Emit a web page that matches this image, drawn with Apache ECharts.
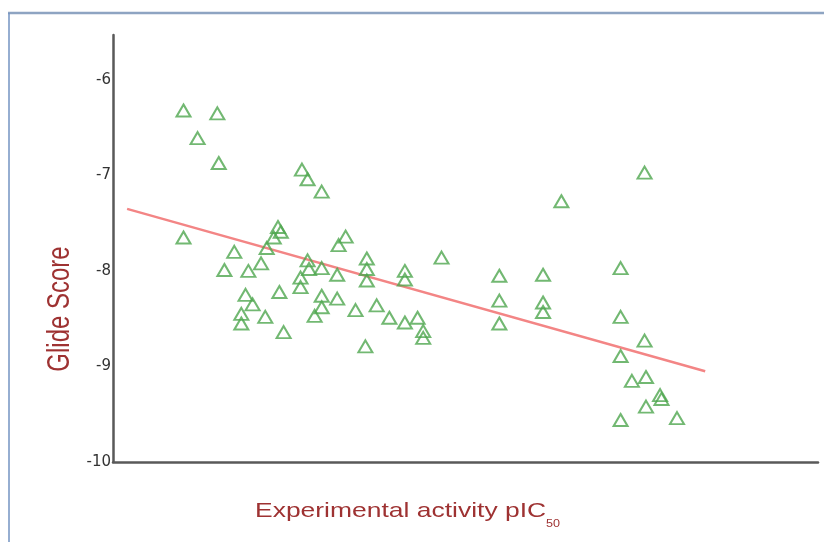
<!DOCTYPE html>
<html>
<head>
<meta charset="utf-8">
<title>Glide Score vs pIC50</title>
<script src="https://cdn.jsdelivr.net/npm/echarts@6/dist/echarts.min.js"></script>
<style>
  html, body { margin: 0; padding: 0; background: #ffffff; }
  #chart { width: 824px; height: 542px; }
</style>
</head>
<body>
<div id="chart"></div>
<script>
// Experimental activity (pIC50) of each compound
const pIC50 = [
  4.50, 4.74, 4.60, 4.75, 5.34, 5.38, 5.48, 7.77, 7.18,
  4.50, 5.17, 5.19, 5.14, 5.09, 4.86, 4.79, 4.96, 5.05, 4.94, 4.99, 4.91, 4.91, 5.08, 5.18, 5.21,
  5.60, 5.65, 5.38, 5.48, 5.39, 5.33, 5.33, 5.59, 5.48, 5.48, 5.43, 5.59, 5.72, 5.87, 5.96, 6.07,
  6.16, 6.20, 6.20, 5.79, 5.80, 5.80, 5.80, 6.07, 6.07, 6.33,
  6.74, 7.05, 7.60, 6.74, 7.05, 7.05, 6.74, 7.60, 7.77, 7.60, 7.68, 7.78, 7.88, 7.89, 7.78, 7.60, 8.00
];

// Docking score of each compound, same order
const glideScore = [
  -6.32, -6.35, -6.61, -6.87, -6.94, -7.04, -7.17, -6.97, -7.27,
  -7.65, -7.54, -7.59, -7.65, -7.76, -7.80, -7.99, -8.00, -7.92, -8.25, -8.35, -8.45, -8.55, -8.48, -8.22, -8.64,
  -7.73, -7.64, -7.89, -7.97, -7.98, -8.07, -8.17, -8.04, -8.26, -8.38, -8.47, -8.29, -8.41, -8.36, -8.49, -8.54,
  -8.49, -8.63, -8.70, -8.79, -7.87, -7.98, -8.10, -8.00, -8.09, -7.86,
  -8.05, -8.04, -7.97, -8.31, -8.33, -8.43, -8.55, -8.48, -8.73, -8.89, -9.15, -9.11, -9.30, -9.34, -9.42, -9.56, -9.54
];

// Linear fit end points
const trendX = [4.10, 8.20];
const trendY = [-7.35, -9.05];

// Y axis tick range
const yMin = -10;
const yMax = -5.53;
const yStep = 1;

const chart = echarts.init(document.getElementById('chart'), null, { renderer: 'canvas' });

const option = {
  animation: false,
  backgroundColor: '#ffffff',
  grid: { left: 113, right: 6, top: 35, bottom: 80 },
  xAxis: {
    type: 'value',
    min: 4,
    max: 9,
    axisLine: { onZero: false, lineStyle: { color: '#595959', width: 2.5 } },
    axisTick: { show: false },
    axisLabel: { show: false },
    splitLine: { show: false }
  },
  yAxis: {
    type: 'value',
    min: yMin,
    max: yMax,
    interval: yStep,
    axisLine: { show: true, onZero: false, lineStyle: { color: '#595959', width: 2.5 } },
    axisTick: { show: false },
    splitLine: { show: false },
    axisLabel: {
      margin: 2,
      color: '#333333',
      fontFamily: 'DejaVu Sans',
      fontSize: 15,
      formatter: function (v) { return Number.isInteger(v) ? String(v) : ''; }
    }
  },
  graphic: [
    // panel frame
    { type: 'line', z: -10, shape: { x1: 8, y1: 13, x2: 824, y2: 13 }, style: { stroke: '#8ea4c2', lineWidth: 2.5 } },
    { type: 'line', z: -10, shape: { x1: 9, y1: 13, x2: 9, y2: 542 }, style: { stroke: '#7393c2', lineWidth: 1.5 } },
    // axis titles
    {
      type: 'text', x: 61, y: 309, rotation: Math.PI / 2, scaleY: 1.27,
      style: {
        text: 'Glide Score', fill: '#9e3232',
        font: '24px "Liberation Sans", Arial, sans-serif',
        textAlign: 'center', textVerticalAlign: 'middle'
      }
    },
    {
      type: 'text', x: 255, y: 511, scaleX: 1.26,
      style: {
        text: 'Experimental activity pIC', fill: '#9e3232',
        font: '21px "Liberation Sans", Arial, sans-serif',
        textAlign: 'left', textVerticalAlign: 'middle'
      }
    },
    {
      type: 'text', x: 546, y: 524, scaleX: 1.26,
      style: {
        text: '50', fill: '#9e3232',
        font: '10px "Liberation Sans", Arial, sans-serif',
        textAlign: 'left', textVerticalAlign: 'middle'
      }
    }
  ],
  series: [
    {
      type: 'line',
      data: trendX.map((x, i) => [x, trendY[i]]),
      showSymbol: false,
      symbol: 'none',
      lineStyle: { color: '#f38585', width: 2.5 },
      z: 1,
      silent: true
    },
    {
      type: 'scatter',
      data: pIC50.map((x, i) => [x, glideScore[i]]),
      symbol: 'triangle',
      symbolSize: [14, 12],
      itemStyle: { color: 'rgba(255,255,255,0)', borderColor: '#4fa64f', borderWidth: 2 },
      z: 2
    }
  ]
};

chart.setOption(option);
</script>
</body>
</html>
